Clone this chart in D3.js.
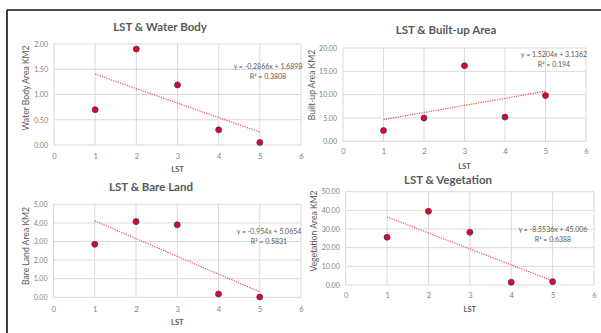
<!DOCTYPE html>
<html><head><meta charset="utf-8">
<script src="https://cdn.jsdelivr.net/npm/d3@7"></script>
<style>html,body{margin:0;padding:0;background:#fff;}svg{display:block;}</style>
</head><body>
<svg id="c" width="601" height="333"></svg>
<script>
const lst = [1, 2, 3, 4, 5];
const xTicks = [0, 1, 2, 3, 4, 5, 6];
const titles = ["LST & Water Body", "LST & Built-up Area", "LST & Bare Land", "LST & Vegetation"];
const yLabels = ["Water Body  Area KM2", "Built-up Area KM2", "Bare Land  Area KM2", "Vegetation Area KM2"];
const waterBody = [0.70, 1.90, 1.19, 0.30, 0.05];
const builtUp = [2.3, 5.0, 16.2, 5.2, 9.8];
const bareLand = [2.85, 4.07, 3.90, 0.18, 0.02];
const vegetation = [25.6, 39.5, 28.3, 1.5, 1.8];
const slopes = [-0.2866, 1.5204, -0.954, -8.5536];
const intercepts = [1.6898, 3.1362, 5.0654, 45.006];
const eqTexts = ["y = -0.2866x + 1.6898", "y = 1.5204x + 3.1362", "y = -0.954x + 5.0654", "y = -8.5536x + 45.006"];
const r2Texts = ["R² = 0.3808", "R² = 0.194", "R² = 0.5831", "R² = 0.6388"];
const yTickSets = [
  [0, 0.5, 1, 1.5, 2],
  [0, 5, 10, 15, 20],
  [0, 1, 2, 3, 4, 5],
  [0, 10, 20, 30, 40, 50]
];
const seriesList = [waterBody, builtUp, bareLand, vegetation];

const layouts = [
  {l:54, r:301, t:44, b:145, tx:160, ty:26, ylx:25.5, ylc:88, xly:157, lsty:169, eqx:268, eqy:66},
  {l:343, r:586, t:48, b:141.3, tx:446, ty:29, ylx:311.5, ylc:85, xly:152, lsty:166, eqx:554, eqy:54},
  {l:53.5, r:301, t:204.3, b:297.3, tx:151, ty:186, ylx:25.5, ylc:246, xly:310, lsty:322, eqx:269, eqy:231},
  {l:345.7, r:594, t:191.7, b:285, tx:448, ty:179, ylx:313.5, ylc:231, xly:296, lsty:309, eqx:553, eqy:229}
];

const svg = d3.select("#c");
const FONT = "Lato, 'Open Sans', 'Liberation Sans', sans-serif";

// outer frame
svg.append("line").attr("x1",7).attr("y1",10).attr("x2",601).attr("y2",10).attr("stroke","#111").attr("stroke-width",1.6);
svg.append("line").attr("x1",7).attr("y1",10).attr("x2",7).attr("y2",333).attr("stroke","#111").attr("stroke-width",1.6);

layouts.forEach((L, i) => {
  const g = svg.append("g");
  const yt = yTickSets[i];
  const x = d3.scaleLinear().domain([0, 6]).range([L.l, L.r]);
  const y = d3.scaleLinear().domain([0, yt[yt.length-1]]).range([L.b, L.t]);

  // grid
  g.selectAll(".hg").data(yt).join("line")
    .attr("x1", L.l).attr("x2", L.r).attr("y1", d=>y(d)).attr("y2", d=>y(d))
    .attr("stroke", "#d9d9d9").attr("stroke-width", 1);
  g.selectAll(".vg").data(xTicks).join("line")
    .attr("y1", L.t).attr("y2", L.b).attr("x1", d=>x(d)).attr("x2", d=>x(d))
    .attr("stroke", "#d9d9d9").attr("stroke-width", 1);

  // axes tick labels via d3 axes
  const ya = d3.axisLeft(y).tickValues(yt).tickFormat(d3.format(".2f")).tickSize(0).tickPadding(6);
  const yg = g.append("g").attr("transform", `translate(${L.l},0)`).call(ya);
  const xa = d3.axisBottom(x).tickValues(xTicks).tickFormat(d3.format("d")).tickSize(0).tickPadding(0);
  const xg = g.append("g").attr("transform", `translate(0,${L.xly})`).call(xa);
  [yg, xg].forEach(a => {
    a.select(".domain").remove();
    a.selectAll("text").attr("fill", "#7f7f7f").style("font-family", FONT).style("font-size", "7px");
  });
  xg.selectAll("text").attr("dy", "0.32em").attr("y", 0).style("font-size", "7.5px");

  // title
  g.append("text").attr("x", L.tx).attr("y", L.ty).attr("text-anchor", "middle").attr("dominant-baseline", "central")
    .attr("fill", "#595959").style("font-family", FONT).style("font-weight", "bold").style("font-size", "11.5px")
    .text(titles[i]);
  // axis titles
  g.append("text").attr("transform", `translate(${L.ylx},${L.ylc}) rotate(-90)`)
    .attr("text-anchor", "middle").attr("dominant-baseline", "central")
    .attr("fill", "#595959").style("font-family", FONT).style("font-size", "8.6px").text(yLabels[i]);
  g.append("text").attr("x", (L.l+L.r)/2).attr("y", L.lsty).attr("text-anchor", "middle").attr("dominant-baseline", "central")
    .attr("fill", "#595959").style("font-family", FONT).style("font-weight", "bold").style("font-size", "7.5px").text("LST");

  // trendline
  const tl = [1, 5].map(v => [v, slopes[i]*v + intercepts[i]]);
  g.append("line").attr("x1", x(tl[0][0])).attr("y1", y(tl[0][1])).attr("x2", x(tl[1][0])).attr("y2", y(tl[1][1]))
    .attr("stroke", "#ff3b3b").attr("stroke-width", 1.1).attr("stroke-dasharray", "1.2,1.2");

  // points
  g.selectAll(".pt").data(lst.map((v, k) => [v, seriesList[i][k]])).join("circle")
    .attr("cx", d=>x(d[0])).attr("cy", d=>y(d[1])).attr("r", 3)
    .attr("fill", "#f00018").attr("stroke", "#2f3f8f").attr("stroke-width", 0.8);

  // equation label
  g.append("text").attr("x", L.eqx).attr("y", L.eqy).attr("text-anchor", "middle").attr("dominant-baseline", "central")
    .attr("fill", "#595959").style("font-family", FONT).style("font-size", "7px").text(eqTexts[i]);
  g.append("text").attr("x", L.eqx).attr("y", L.eqy + 10).attr("text-anchor", "middle").attr("dominant-baseline", "central")
    .attr("fill", "#595959").style("font-family", FONT).style("font-size", "7px").text(r2Texts[i]);
});
</script>
</body></html>
